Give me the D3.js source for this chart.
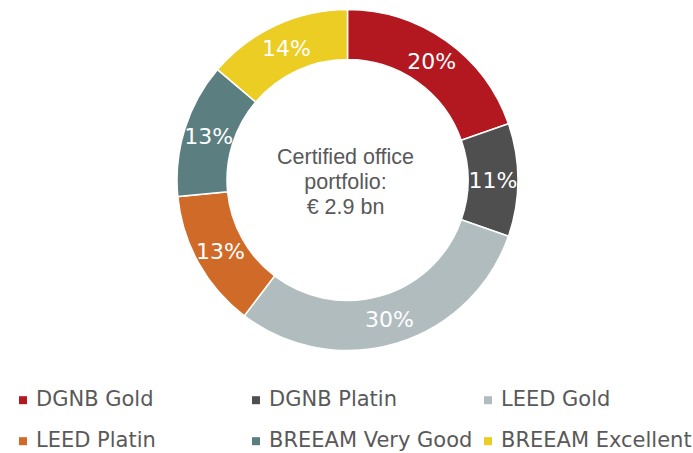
<!DOCTYPE html>
<html>
<head>
<meta charset="utf-8">
<script src="https://cdn.jsdelivr.net/npm/d3@7.9.0/dist/d3.min.js"></script>
<style>
  html, body { margin: 0; padding: 0; background: #fff; }
  svg { display: block; }
</style>
</head>
<body>
<svg id="chart" width="693" height="453"></svg>
<script>
// Data (€ bn, certified office portfolio)
const categories = ['DGNB Gold', 'DGNB Platin', 'LEED Gold', 'LEED Platin', 'BREEAM Very Good', 'BREEAM Excellent'];
const values = [0.57, 0.31, 0.87, 0.38, 0.37, 0.40];
const colors = ['#B3171F', '#4F4F4F', '#B1BCBF', '#D06A28', '#5B7E80', '#EBCD24'];
const centerLines = ['Certified office', 'portfolio:', '€ 2.9 bn'];

const width = 693, height = 453;
const cx = 347.5, cy = 180;
const outerRadius = 170.5, innerRadius = 120.5;

const svg = d3.select('#chart');
const total = d3.sum(values);

const data = categories.map((c, i) => ({ label: c, value: values[i], color: colors[i] }));

// Pie setup (keep order, start at 12 o'clock)
const pie = d3.pie().sort(null).value(d => d.value);
const arcData = pie(data);
const arc = d3.arc().innerRadius(innerRadius).outerRadius(outerRadius);

const g = svg.append('g').attr('transform', `translate(${cx},${cy})`);

g.selectAll('path')
  .data(arcData)
  .join('path')
  .attr('d', arc)
  .attr('fill', d => d.data.color)
  .attr('stroke', '#fff')
  .attr('stroke-width', 1.5);

// Percent labels
g.selectAll('text.pct')
  .data(arcData)
  .join('text')
  .attr('class', 'pct')
  .attr('x', d => arc.centroid(d)[0])
  .attr('y', d => arc.centroid(d)[1])
  .attr('dy', '0.36em')
  .attr('text-anchor', 'middle')
  .attr('font-family', 'DejaVu Sans, Verdana, sans-serif')
  .attr('font-size', 22)
  .attr('fill', '#fff')
  .text(d => Math.round(d.data.value / total * 100) + '%');

// Center text
svg.append('g')
  .selectAll('text')
  .data(centerLines)
  .join('text')
  .attr('x', 345.5)
  .attr('y', (d, i) => 163.5 + i * 25.3)
  .attr('text-anchor', 'middle')
  .attr('font-family', 'Liberation Sans, Arial, sans-serif')
  .attr('font-size', 21.5)
  .attr('fill', '#595959')
  .text(d => d);

// Legend, 3 columns x 2 rows
const colX = [19, 252, 484];
const rowY = [405.7, 446.7];

const legend = svg.append('g')
  .selectAll('g')
  .data(data)
  .join('g')
  .attr('transform', (d, i) => `translate(${colX[i % 3]},${rowY[Math.floor(i / 3)]})`);

legend.append('rect')
  .attr('x', 0)
  .attr('y', -9.5)
  .attr('width', 8)
  .attr('height', 8)
  .attr('fill', d => d.color);

legend.append('text')
  .attr('x', 17)
  .attr('y', 0)
  .attr('font-family', 'DejaVu Sans, Verdana, sans-serif')
  .attr('font-size', 21)
  .attr('fill', '#595959')
  .text(d => d.label);
</script>
</body>
</html>
